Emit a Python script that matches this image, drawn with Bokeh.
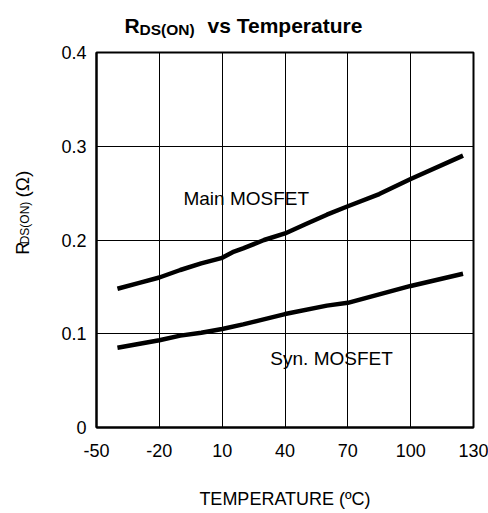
from bokeh.plotting import figure
from bokeh.layouts import column, row
from bokeh.models import Label, FixedTicker, Range1d
from bokeh.embed import file_html
from bokeh.resources import INLINE
import math

# Data
temp_main = [-40, -30, -20, -10, 0, 10, 15, 20, 30, 40, 50, 60, 70, 85, 100, 125]
rds_main = [0.148, 0.154, 0.160, 0.168, 0.175, 0.181, 0.187, 0.191, 0.200, 0.207, 0.217, 0.227, 0.236, 0.249, 0.265, 0.290]
temp_syn = [-40, -20, -10, 0, 10, 20, 40, 60, 70, 85, 100, 125]
rds_syn = [0.085, 0.093, 0.098, 0.101, 0.105, 0.110, 0.121, 0.130, 0.133, 0.142, 0.151, 0.164]
x_ticks = [-50, -20, 10, 40, 70, 100, 130]
y_ticks = [0, 0.1, 0.2, 0.3, 0.4]
y_tick_text = ["0", "0.1", "0.2", "0.3", "0.4"]

FONT = "Liberation Sans"

# ---------- main chart ----------
p = figure(width=448, height=473, output_backend="svg", toolbar_location=None,
           x_range=Range1d(-50, 130), y_range=Range1d(0, 0.4),
           min_border_left=56, min_border_right=15, min_border_top=12, min_border_bottom=86)
p.title = None
p.outline_line_color = "black"
p.outline_line_width = 2
p.outline_line_alpha = 1

p.xaxis.ticker = FixedTicker(ticks=x_ticks)
p.yaxis.ticker = FixedTicker(ticks=y_ticks)
p.xaxis.major_label_overrides = {t: str(t) for t in x_ticks}
p.yaxis.major_label_overrides = dict(zip(y_ticks, y_tick_text))
for ax in (p.xaxis[0], p.yaxis[0]):
    ax.axis_line_color = "black"
    ax.axis_line_width = 2
    ax.major_tick_out = 0
    ax.major_tick_in = 0
    ax.minor_tick_line_color = None
    ax.major_label_text_font = FONT
    ax.major_label_text_font_size = "18px"
    ax.major_label_text_color = "black"
p.xaxis.major_label_standoff = 16
p.yaxis.major_label_standoff = 10

p.xaxis.axis_label = "TEMPERATURE (ºC)"
p.xaxis.axis_label_text_font = FONT
p.xaxis.axis_label_text_font_size = "18px"
p.xaxis.axis_label_text_font_style = "normal"
p.xaxis.axis_label_text_color = "black"
p.xaxis.axis_label_standoff = 29

p.xgrid.ticker = FixedTicker(ticks=x_ticks)
p.ygrid.ticker = FixedTicker(ticks=y_ticks)
p.grid.grid_line_color = "black"
p.grid.grid_line_width = 1
p.grid.grid_line_alpha = 1

p.line(temp_main, rds_main, line_color="black", line_width=4.5)
p.line(temp_syn, rds_syn, line_color="black", line_width=4.5)

p.add_layout(Label(x=-8.5, y=0.244, text="Main MOSFET", text_font=FONT, text_baseline="alphabetic",
                   text_font_size="19px", text_color="black"))
p.add_layout(Label(x=33, y=0.0736, text="Syn. MOSFET", text_font=FONT, text_baseline="alphabetic",
                   text_font_size="19px", text_color="black"))


def blank(w, h, xr, yr):
    f = figure(width=w, height=h, output_backend="svg", toolbar_location=None,
               x_range=xr, y_range=yr, x_axis_type=None, y_axis_type=None,
               min_border=0)
    f.title = None
    f.outline_line_color = None
    return f


def txt(f, x, y, text, size, bold=False, angle=0.0):
    f.add_layout(Label(x=x, y=y, text=text, text_font=FONT, text_font_size=size,
                       text_font_style="bold" if bold else "normal", angle=angle,
                       text_baseline="alphabetic", text_align="left", text_color="black"))


# ---------- title strip (pixel coordinates, y downward) ----------
t = blank(488, 40, Range1d(0, 488), Range1d(40, 0))
txt(t, 124, 25, "R", "21px", bold=True)
txt(t, 139, 29, "DS(ON)", "15.5px", bold=True)
txt(t, 207, 25, "vs Temperature", "21px", bold=True)

# ---------- y-axis label strip (pixel coordinates, y downward) ----------
yl = blank(40, 473, Range1d(0, 40), Range1d(513, 40))
txt(yl, 22, 295, "R", "18px", angle=math.pi / 2)
txt(yl, 24, 282, "DS(ON)", "12px", angle=math.pi / 2)
txt(yl, 22, 223, "(Ω)", "19px", angle=math.pi / 2)

layout = column(t, row(yl, p))
open("out.html", "w").write(file_html(layout, INLINE))
